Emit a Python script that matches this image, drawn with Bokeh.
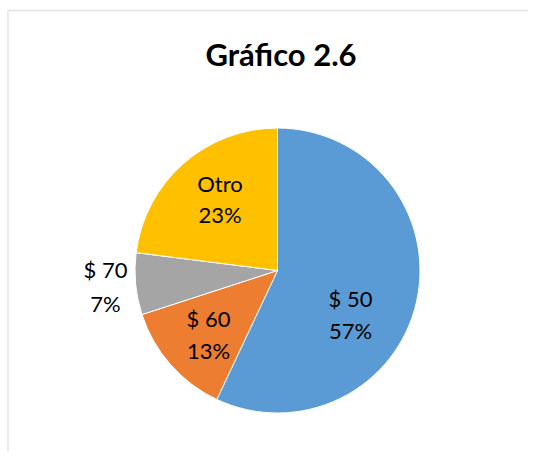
import math
from bokeh.plotting import figure
from bokeh.models import ColumnDataSource, Range1d, BoxAnnotation
from bokeh.core.properties import value
from bokeh.embed import file_html
from bokeh.resources import INLINE

# ---- data ----
categories = ["$ 50", "$ 60", "$ 70", "Otro"]
percent = [57, 13, 7, 23]
colors = ["#5B9BD5", "#ED7D31", "#A5A5A5", "#FFC000"]
chart_title = "Gráfico 2.6"

# ---- layout (picture pixel coordinates; y is stored negated) ----
W, H = 528, 451
cx, cy, r = 277, 270, 142.5
label_x = [350, 208, 105, 219.5]
name_base = [298, 318, 269, 183]
pct_base = [330, 350, 303, 214]
title_base = 53

total = sum(percent)
starts, ends, cum = [], [], 0.0
for v in percent:
    starts.append(math.pi / 2 - 2 * math.pi * cum / total)
    cum += v
    ends.append(math.pi / 2 - 2 * math.pi * cum / total)

src = ColumnDataSource(dict(
    x=[cx] * len(percent), y=[-cy] * len(percent),
    start=starts, end=ends, color=colors,
))

p = figure(width=W, height=H, output_backend="svg", toolbar_location=None,
           x_range=Range1d(0, W), y_range=Range1d(-H, 0),
           min_border=0, background_fill_color="white",
           border_fill_color="white", outline_line_color=None)
p.axis.visible = False
p.grid.visible = False

# chart area border (left and top edges visible)
p.add_layout(BoxAnnotation(left=7.5, right=700, top=-10, bottom=-900,
                           fill_alpha=0, line_color="#A6A6A6", line_width=1.5))

p.wedge(x="x", y="y", radius=r, start_angle="start", end_angle="end",
        direction="clock", fill_color="color", line_color="white",
        line_width=1, source=src)

lab = ColumnDataSource(dict(
    x=label_x,
    yn=[-b for b in name_base],
    yp=[-b for b in pct_base],
    name=categories,
    pct=[f"{v}%" for v in percent],
))
p.text(x="x", y="yn", text="name", source=lab, text_align="center",
       text_baseline="alphabetic", text_font=value("Lato"),
       text_font_size="22px", text_color="black")
p.text(x="x", y="yp", text="pct", source=lab, text_align="center",
       text_baseline="alphabetic", text_font=value("Lato"),
       text_font_size="22px", text_color="black")

p.text(x=[280.5], y=[-title_base], text=[chart_title], text_align="center",
       text_baseline="alphabetic", text_font=value("Lato"),
       text_font_style="bold", text_font_size="31px", text_color="black")

open("out.html", "w").write(file_html(p, INLINE))
